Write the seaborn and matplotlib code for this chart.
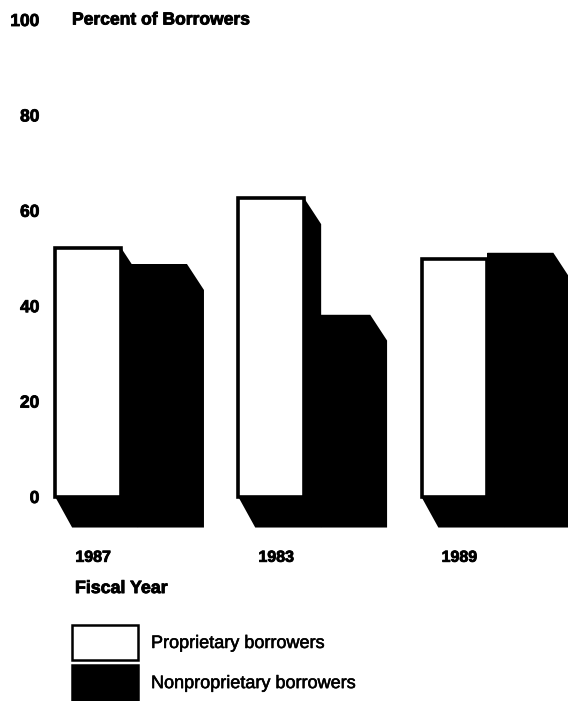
import matplotlib
matplotlib.use("Agg")
import matplotlib.pyplot as plt
import matplotlib.patheffects as pe
from matplotlib.transforms import ScaledTranslation
import pandas as pd
import seaborn as sns

# Data
years = ["1987", "1983", "1989"]
proprietary = [52.2, 62.6, 49.8]
nonproprietary = [48.8, 38.2, 51.2]
series_names = ["Proprietary borrowers", "Nonproprietary borrowers"]
y_ticks = [0, 20, 40, 60, 80, 100]
title_text = "Percent of Borrowers"
xlabel_text = "Fiscal Year"

W, H, DPI = 568, 701, 100
sns.set_theme(style="white")
plt.rcParams["font.family"] = ["Liberation Sans", "DejaVu Sans"]

df = pd.DataFrame({
    "year": years * 2,
    "percent": proprietary + nonproprietary,
    "type": [series_names[0]] * 3 + [series_names[1]] * 3,
})

fig = plt.figure(figsize=(W / DPI, H / DPI), dpi=DPI, facecolor="white")
ax = fig.add_axes([56 / W, (H - 497) / H, (W - 56) / W, (497 - 20) / H])
ax.patch.set_alpha(0)

sns.barplot(data=df, x="year", y="percent", hue="type", order=years, hue_order=series_names,
            palette=["white", "black"], saturation=1, width=0.72, gap=0, errorbar=None,
            ax=ax, zorder=3)
for i, container in enumerate(ax.containers):
    for bar in container:
        bar.set_edgecolor("black")
        bar.set_linewidth(2.6 if i == 0 else 0)
        bar.set_zorder(5 if i == 0 else 3)
        bar.set_clip_on(False)

# Extruded black depth of each bar, derived from the drawn bars
DX, DY = 0.092, 6.4
for container in ax.containers:
    for bar in container:
        x0, x1, h = bar.get_x(), bar.get_x() + bar.get_width(), bar.get_height()
        ax.fill([x0, x0 + DX, x1 + DX, x1 + DX, x1, x0],
                [0, -DY, -DY, h - DY + 1.0, h, h],
                color="black", lw=0, zorder=2, clip_on=False)

ax.set_xlim(-0.356, 2.44)
ax.set_ylim(0, 100)
ax.set_yticks(y_ticks)
ax.set_xticks(range(len(years)), years)
sns.despine(ax=ax, left=True, bottom=True)
ax.tick_params(axis="both", length=0, labelcolor="black")
ax.tick_params(axis="y", labelsize=12.5, pad=12)
ax.tick_params(axis="x", labelsize=11.5, pad=38)
shift = ScaledTranslation(-28 / DPI, 0, fig.dpi_scale_trans)
for lab in ax.get_xticklabels():
    lab.set_transform(lab.get_transform() + shift)
stroke = [pe.withStroke(linewidth=0.6, foreground="black")]
for lab in ax.get_xticklabels() + ax.get_yticklabels():
    lab.set_fontweight("bold")
    lab.set_path_effects(stroke)

ax.set_title(title_text, loc="left", x=16 / (W - 56), y=1.0, pad=0, va="center",
             fontsize=12.6, fontweight="bold", color="black", path_effects=stroke)
ax.set_xlabel(xlabel_text, x=19 / (W - 56), ha="left", labelpad=11,
              fontsize=12.8, fontweight="bold", color="black", path_effects=stroke)
ax.set_ylabel("")

handles, labels = ax.get_legend_handles_labels()
for h_, col in zip(handles, ["white", "black"]):
    h_.set_facecolor(col)
    h_.set_edgecolor("black")
    h_.set_linewidth(1.8)
fs = 13
fs_px = fs * DPI / 72
leg = ax.legend(handles, labels, loc="upper left", bbox_to_anchor=(72 / W, 1 - 625 / H),
                bbox_transform=fig.transFigure, frameon=False, fontsize=fs,
                handlelength=66 / fs_px, handleheight=2.61, labelspacing=0.28,
                handletextpad=13 / fs_px, borderpad=0, borderaxespad=0)
for t in leg.get_texts():
    t.set_color("black")
    t.set_path_effects([pe.withStroke(linewidth=0.4, foreground="black")])

fig.savefig("out.png", dpi=DPI)
